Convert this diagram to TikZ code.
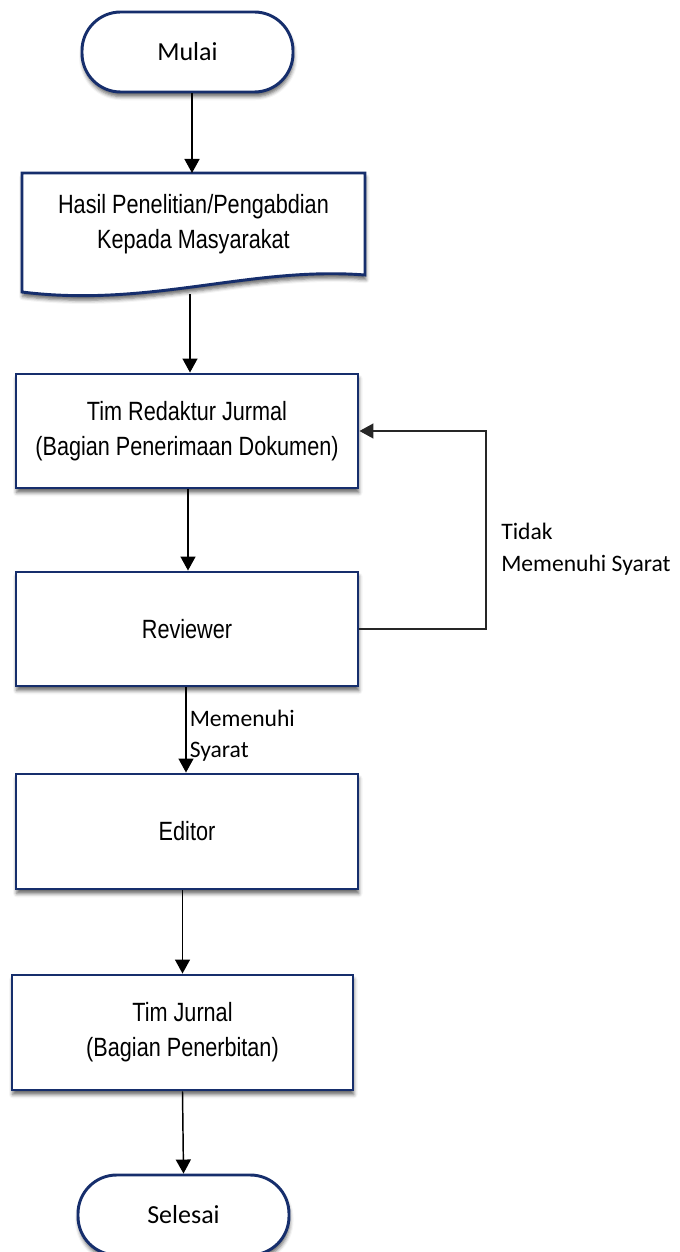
\documentclass[tikz,border=0pt]{standalone}
\usepackage{fontspec}
\setmainfont{Liberation Sans}
\newfontfamily\narrowfont[FakeStretch=0.82]{Liberation Sans}
\newfontfamily\calfont{Carlito}
\usetikzlibrary{arrows.meta,shadows.blur}
\definecolor{navy}{RGB}{22,46,108}
\begin{document}
\begin{tikzpicture}[x=0.75pt,y=-0.75pt,
  shade/.style={blur shadow={shadow xshift=0.6pt,shadow yshift=-3.4pt,shadow blur radius=2.8pt,shadow opacity=60}},
  procbox/.style={draw=navy,line width=2.2pt,fill=white,shade,inner sep=0pt,
    minimum width=256.5pt,minimum height=85.5pt,align=center,
    font=\narrowfont\fontsize{19.8pt}{26.25pt}\selectfont},
  termbox/.style={draw=navy,line width=2.2pt,fill=white,shade,rounded corners=29pt,inner sep=0pt,
    minimum width=158.25pt,minimum height=60pt,font=\calfont\fontsize{19.5pt}{24pt}\selectfont},
  lbl/.style={anchor=west,align=left,inner sep=0pt,font=\calfont\fontsize{17.7pt}{23.6pt}\selectfont},
  arr/.style={draw=black,line width=1.1pt,-{Triangle[width=11.25pt,length=10.5pt]}}
]
\useasboundingbox (0,0) rectangle (679,1252);
% start
\node[termbox] (mulai) at (187.5,52) {Mulai};
% document shape
\draw[draw=navy,line width=2.2pt,fill=white,shade]
  (22,173) -- (365,173) -- (365,275)
  .. controls (250,266) and (150,308) .. (22,292) -- cycle;
\node[align=center,inner sep=0pt,font=\narrowfont\fontsize{19.8pt}{26.25pt}\selectfont] (doc) at (193.5,224.5)
  {Hasil Penelitian/Pengabdian\\Kepada Masyarakat};
\coordinate (docin) at (192,173);
\coordinate (docout) at (190,294);
% process boxes
\node[procbox] (tim) at (187,431) {Tim Redaktur Jurmal\\(Bagian Penerimaan Dokumen)};
\node[procbox] (rev) at (187,629) {Reviewer};
\node[procbox,minimum height=86.25pt] (edit) at (187,831.5) {Editor};
\node[procbox,minimum width=255.75pt,minimum height=86.25pt] (timj) at (182.5,1032.5) {Tim Jurnal\\(Bagian Penerbitan)};
\node[termbox] (selesai) at (183.5,1215) {Selesai};
% loop corner
\coordinate (loopb) at (486,629);
\coordinate (loopt) at (486,431);
% connectors
\draw[arr] (docin |- mulai.south) -- (docin);
\draw[arr] (docout) -- (docout |- tim.north);
\draw[arr] ([xshift=0.75pt]tim.south) -- ([xshift=0.75pt]tim.south |- rev.north);
\draw[arr] ([xshift=-0.75pt]rev.south) -- ([xshift=-0.75pt]rev.south |- edit.north);
\draw[arr] (timj.north |- edit.south) -- (timj.north);
\draw[arr] (timj.south) -- (selesai.north);
\draw[arr,draw=black!85] (rev.east) -- (loopb) -- (loopt) -- (tim.east);
% labels
\node[lbl] (tidak) at (501,549) {Tidak\\Memenuhi Syarat};
\node[lbl] (memenuhi) at (189.5,735.5) {Memenuhi\\Syarat};
\end{tikzpicture}
\end{document}
